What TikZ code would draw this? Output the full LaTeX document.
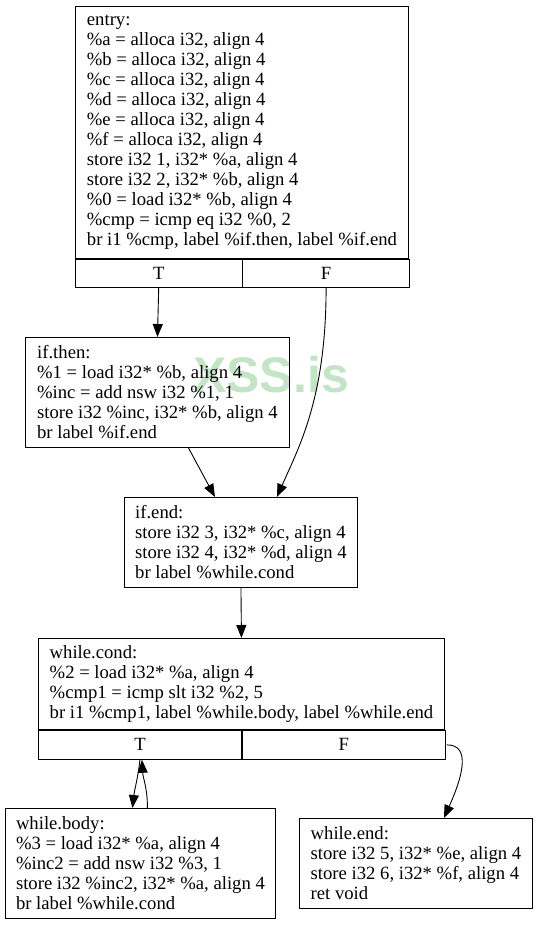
\documentclass[tikz,border=0pt]{standalone}
\usepackage{fontspec}
\setmainfont{Liberation Serif}
\newfontfamily\marchio{Liberation Sans}
\usepackage{tikz}
\usetikzlibrary{arrows.meta, calc}
\definecolor{verdino}{RGB}{196,228,198}
\newcommand{\testo}{\fontsize{18.67}{20}\selectfont}

\begin{document}
\begin{tikzpicture}[x=1pt, y=-1pt,
    blocco/.style={draw, line width=0.9pt, rectangle, align=left, anchor=north west, inner sep=0pt, font=\testo},
    ramo/.style={draw, line width=0.9pt, rectangle, anchor=north west, inner sep=0pt, font=\testo},
    freccia/.style={line width=0.9pt, -{Triangle[length=13pt, width=10pt]}}]
    % Cornice
    \useasboundingbox (0,0) rectangle (537,925);
    % Filigrana
    \node[font=\marchio\bfseries\fontsize{50}{50}\selectfont, text=verdino] (marchio) at (271,375) {XSS.is};
    % Blocco entry
    \node[blocco, minimum width=333pt, minimum height=252pt] (entry) at (75,6) {entry:\\
        \%a = alloca i32, align 4\\
        \%b = alloca i32, align 4\\
        \%c = alloca i32, align 4\\
        \%d = alloca i32, align 4\\
        \%e = alloca i32, align 4\\
        \%f = alloca i32, align 4\\
        store i32 1, i32* \%a, align 4\\
        store i32 2, i32* \%b, align 4\\
        \%0 = load i32* \%b, align 4\\
        \%cmp = icmp eq i32 \%0, 2\\
        br i1 \%cmp, label \%if.then, label \%if.end};
    \node[ramo, minimum width=166.5pt, minimum height=28pt] (entryT) at (entry.south west) {T};
    \node[ramo, minimum width=166.5pt, minimum height=28pt] (entryF) at (entryT.north east) {F};
    % Blocco if.then
    \node[blocco, minimum width=264pt, minimum height=110pt] (ifthen) at (25,337) {if.then:\\
        \%1 = load i32* \%b, align 4\\
        \%inc = add nsw i32 \%1, 1\\
        store i32 \%inc, i32* \%b, align 4\\
        br label \%if.end};
    % Blocco if.end
    \node[blocco, minimum width=233pt, minimum height=90pt] (ifend) at (124,497) {if.end:\\
        store i32 3, i32* \%c, align 4\\
        store i32 4, i32* \%d, align 4\\
        br label \%while.cond};
    % Blocco while.cond
    \node[blocco, minimum width=406pt, minimum height=91pt] (wcond) at (38,638) {while.cond:\\
        \%2 = load i32* \%a, align 4\\
        \%cmp1 = icmp slt i32 \%2, 5\\
        br i1 \%cmp1, label \%while.body, label \%while.end};
    \node[ramo, minimum width=203pt, minimum height=29pt] (wcondT) at (wcond.south west) {T};
    \node[ramo, minimum width=203pt, minimum height=29pt] (wcondF) at (wcondT.north east) {F};
    % Blocchi while.body e while.end
    \node[blocco, minimum width=270pt, minimum height=110pt] (wbody) at (5,808) {while.body:\\
        \%3 = load i32* \%a, align 4\\
        \%inc2 = add nsw i32 \%3, 1\\
        store i32 \%inc2, i32* \%a, align 4\\
        br label \%while.cond};
    \node[blocco, minimum width=233pt, minimum height=90pt] (wend) at (299,818) {while.end:\\
        store i32 5, i32* \%e, align 4\\
        store i32 6, i32* \%f, align 4\\
        ret void};
    % Archi
    \draw[freccia] (entryT.south) -- (ifthen.north);
    \draw[freccia] (entryF.south) .. controls +(0,110) and +(22,-50) .. ($(ifend.north)+(36,0)$);
    \draw[freccia] ($(ifthen.south)+(31,0)$) -- ($(ifend.north)+(-26,0)$);
    \draw[freccia] (ifend.south) -- (wcond.north);
    \draw[freccia] (wcondT.south) .. controls +(-2,18) and +(2,-18) .. ($(wbody.north)+(-8,0)$);
    \draw[freccia] ($(wbody.north)+(7,0)$) .. controls +(0,-20) and +(1,18) .. ($(wcondT.south)+(2,0)$);
    \draw[freccia] ($(wcondF.east)+(1,0)$) .. controls +(25,0) and +(18,-40) .. ($(wend.north)+(28,0)$);
\end{tikzpicture}
\end{document}
